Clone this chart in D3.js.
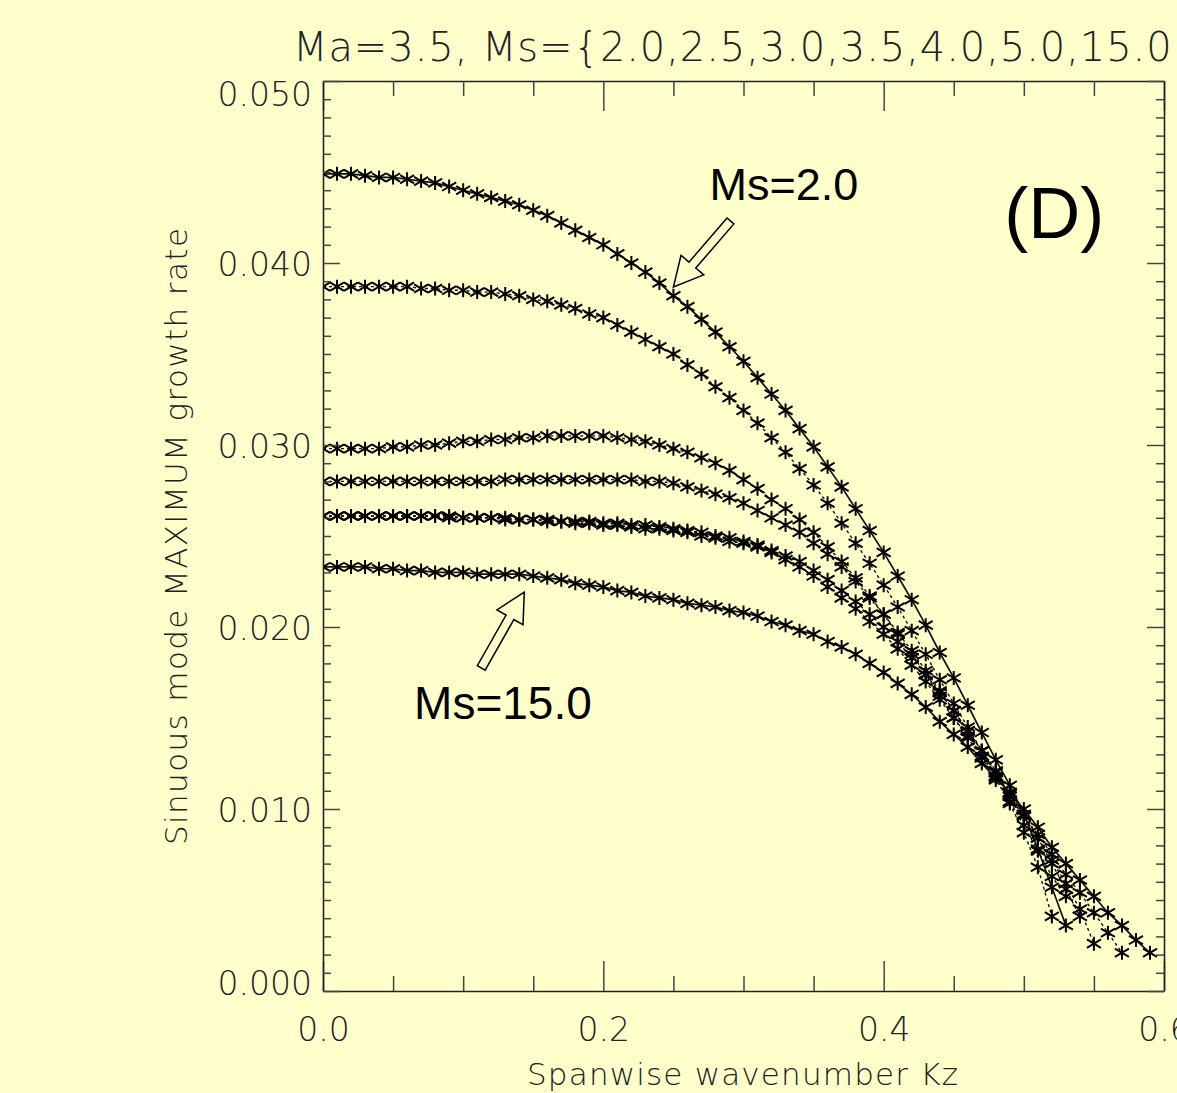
<!DOCTYPE html>
<html>
<head>
<meta charset="utf-8">
<script src="https://cdn.jsdelivr.net/npm/d3@7"></script>
<style>
  html, body { margin: 0; padding: 0; background: #ffffcc; overflow: hidden; }
  svg { display: block; }
  .tick text { font-family: "DejaVu Sans", sans-serif; font-weight: 200; fill: #222; }
</style>
</head>
<body>
<div id="chart"></div>
<script>
// spanwise wavenumber grid (step 0.01)
const kz = [0.00, 0.01, 0.02, 0.03, 0.04, 0.05, 0.06, 0.07, 0.08, 0.09,
            0.10, 0.11, 0.12, 0.13, 0.14, 0.15, 0.16, 0.17, 0.18, 0.19,
            0.20, 0.21, 0.22, 0.23, 0.24, 0.25, 0.26, 0.27, 0.28, 0.29,
            0.30, 0.31, 0.32, 0.33, 0.34, 0.35, 0.36, 0.37, 0.38, 0.39,
            0.40, 0.41, 0.42, 0.43, 0.44, 0.45, 0.46, 0.47, 0.48, 0.49,
            0.50, 0.51, 0.52, 0.53, 0.54, 0.55, 0.56, 0.57, 0.58, 0.59];

// maximum growth rate, one array per Ms
const ms2_0 = [0.0449, 0.0449, 0.0449, 0.0448, 0.0447, 0.0447, 0.0446, 0.0445, 0.0444, 0.0442,
               0.0440, 0.0438, 0.0436, 0.0434, 0.0432, 0.0429, 0.0426, 0.0422, 0.0418, 0.0414,
               0.0410, 0.0405, 0.0400, 0.0395, 0.0389, 0.0382, 0.0376, 0.0369, 0.0362, 0.0354,
               0.0346, 0.0337, 0.0328, 0.0319, 0.0309, 0.0299, 0.0288, 0.0277, 0.0265, 0.0253,
               0.0241, 0.0228, 0.0215, 0.0201, 0.0186, 0.0172, 0.0157, 0.0142, 0.0127, 0.0113,
               0.0097, 0.0078, 0.0057, 0.0036];
const ms2_5 = [0.0387, 0.0387, 0.0387, 0.0387, 0.0387, 0.0387, 0.0387, 0.0386, 0.0386, 0.0385,
               0.0385, 0.0384, 0.0384, 0.0383, 0.0382, 0.0380, 0.0379, 0.0377, 0.0375, 0.0372,
               0.0370, 0.0366, 0.0362, 0.0358, 0.0354, 0.0350, 0.0344, 0.0339, 0.0332, 0.0326,
               0.0319, 0.0312, 0.0304, 0.0296, 0.0287, 0.0278, 0.0268, 0.0257, 0.0246, 0.0235,
               0.0223, 0.0211, 0.0198, 0.0185, 0.0171, 0.0158, 0.0145, 0.0132, 0.0118, 0.0103,
               0.0087, 0.0068, 0.0041];
const ms3_0 = [0.0298, 0.0298, 0.0298, 0.0298, 0.0298, 0.0299, 0.0299, 0.0300, 0.0300, 0.0301,
               0.0302, 0.0302, 0.0303, 0.0303, 0.0304, 0.0304, 0.0305, 0.0305, 0.0305, 0.0305,
               0.0305, 0.0304, 0.0303, 0.0302, 0.0300, 0.0298, 0.0296, 0.0293, 0.0290, 0.0286,
               0.0281, 0.0276, 0.0270, 0.0265, 0.0259, 0.0252, 0.0244, 0.0236, 0.0227, 0.0217,
               0.0207, 0.0196, 0.0185, 0.0174, 0.0162, 0.0150, 0.0139, 0.0128, 0.0116, 0.0104,
               0.0091, 0.0077, 0.0063, 0.0052];
const ms3_5 = [0.0280, 0.0280, 0.0280, 0.0280, 0.0280, 0.0280, 0.0280, 0.0280, 0.0280, 0.0280,
               0.0280, 0.0280, 0.0280, 0.0281, 0.0281, 0.0281, 0.0281, 0.0281, 0.0281, 0.0281,
               0.0281, 0.0281, 0.0281, 0.0280, 0.0280, 0.0279, 0.0277, 0.0275, 0.0273, 0.0271,
               0.0268, 0.0264, 0.0260, 0.0256, 0.0252, 0.0246, 0.0240, 0.0233, 0.0225, 0.0216,
               0.0207, 0.0197, 0.0187, 0.0176, 0.0165, 0.0154, 0.0143, 0.0132, 0.0121, 0.0109,
               0.0097, 0.0084, 0.0070, 0.0056, 0.0041];
const ms4_0 = [0.0261, 0.0261, 0.0261, 0.0261, 0.0261, 0.0261, 0.0261, 0.0261, 0.0261, 0.0261,
               0.0260, 0.0260, 0.0260, 0.0260, 0.0259, 0.0259, 0.0259, 0.0258, 0.0258, 0.0258,
               0.0257, 0.0257, 0.0256, 0.0256, 0.0255, 0.0254, 0.0253, 0.0252, 0.0250, 0.0249,
               0.0247, 0.0245, 0.0242, 0.0239, 0.0236, 0.0231, 0.0226, 0.0220, 0.0214, 0.0207,
               0.0200, 0.0192, 0.0183, 0.0174, 0.0164, 0.0154, 0.0143, 0.0132, 0.0120, 0.0108,
               0.0096, 0.0084, 0.0072, 0.0059, 0.0045, 0.0026];
const ms5_0 = [0.0261, 0.0261, 0.0261, 0.0261, 0.0261, 0.0261, 0.0261, 0.0261, 0.0261, 0.0260,
               0.0260, 0.0260, 0.0260, 0.0259, 0.0259, 0.0259, 0.0258, 0.0258, 0.0257, 0.0257,
               0.0256, 0.0256, 0.0255, 0.0254, 0.0254, 0.0253, 0.0252, 0.0250, 0.0249, 0.0247,
               0.0246, 0.0244, 0.0241, 0.0237, 0.0233, 0.0228, 0.0222, 0.0216, 0.0210, 0.0203,
               0.0196, 0.0188, 0.0179, 0.0170, 0.0160, 0.0150, 0.0140, 0.0129, 0.0118, 0.0107,
               0.0096, 0.0086, 0.0075, 0.0064, 0.0054, 0.0043, 0.0032, 0.0021];
const ms15_0 = [0.0233, 0.0233, 0.0233, 0.0233, 0.0232, 0.0232, 0.0231, 0.0231, 0.0230, 0.0230,
                0.0230, 0.0229, 0.0229, 0.0229, 0.0229, 0.0228, 0.0227, 0.0226, 0.0224, 0.0223,
                0.0222, 0.0220, 0.0219, 0.0217, 0.0216, 0.0215, 0.0213, 0.0212, 0.0211, 0.0209,
                0.0208, 0.0206, 0.0203, 0.0201, 0.0198, 0.0196, 0.0192, 0.0189, 0.0185, 0.0180,
                0.0175, 0.0169, 0.0163, 0.0156, 0.0148, 0.0141, 0.0134, 0.0125, 0.0117, 0.0109,
                0.0100, 0.0090, 0.0079, 0.0070, 0.0061, 0.0052, 0.0043, 0.0036, 0.0028, 0.0021];

const msValues = ["2.0", "2.5", "3.0", "3.5", "4.0", "5.0", "15.0"];
const msSeries = [ms2_0, ms2_5, ms3_0, ms3_5, ms4_0, ms5_0, ms15_0];
const solidSeries = ["2.0", "15.0"];

// ticks
const xMajor = [0.0, 0.2, 0.4, 0.6];
const xMinor = [0.05, 0.10, 0.15, 0.25, 0.30, 0.35, 0.45, 0.50, 0.55];
const yMajor = [0.000, 0.010, 0.020, 0.030, 0.040, 0.050];
const yMinor = [0.001, 0.002, 0.003, 0.004, 0.005, 0.006, 0.007, 0.008, 0.009,
                0.011, 0.012, 0.013, 0.014, 0.015, 0.016, 0.017, 0.018, 0.019,
                0.021, 0.022, 0.023, 0.024, 0.025, 0.026, 0.027, 0.028, 0.029,
                0.031, 0.032, 0.033, 0.034, 0.035, 0.036, 0.037, 0.038, 0.039,
                0.041, 0.042, 0.043, 0.044, 0.045, 0.046, 0.047, 0.048, 0.049];

// annotations, in data units [kz, rate]
const arrows = [
    {tail: [0.2907, 0.04231], tip: [0.2500, 0.03868]},
    {tail: [0.1129, 0.01775], tip: [0.1436, 0.02192]},
];
const labels = [
    {text: "Ms=2.0", at: [0.2757, 0.04346], size: 45},
    {text: "Ms=15.0", at: [0.0650, 0.01495], size: 46},
    {text: "(D)", at: [0.4860, 0.04135], size: 72},
];
const title = "Ma=3.5,  Ms={2.0,2.5,3.0,3.5,4.0,5.0,15.0}";

const width = 1177, height = 1093;
const bg = "#ffffcc";

const svg = d3.select("#chart")
    .append("svg")
    .attr("width", width)
    .attr("height", height);

svg.append("rect").attr("width", width).attr("height", height).attr("fill", bg);

const x = d3.scaleLinear().domain([0, 0.6]).range([323, 1164]);
const y = d3.scaleLinear().domain([0, 0.05]).range([991, 81]);

function drawAxes() {
    const tickColor = "#444";

    // bottom
    let g = svg.append("g").attr("transform", `translate(0,${y(0)})`)
        .call(d3.axisBottom(x).tickValues(xMajor).tickSize(-30).tickSizeOuter(0)
            .tickPadding(27).tickFormat(d3.format(".1f")));
    g.selectAll("text").style("font-size", "33px");
    svg.append("g").attr("transform", `translate(0,${y(0)})`)
        .call(d3.axisBottom(x).tickValues(xMinor).tickSize(-15).tickFormat(""))
        .call(s => s.select(".domain").remove());

    // top
    svg.append("g").attr("transform", `translate(0,${y(0.05)})`)
        .call(d3.axisTop(x).tickValues(xMajor).tickSize(-30).tickSizeOuter(0).tickFormat(""));
    svg.append("g").attr("transform", `translate(0,${y(0.05)})`)
        .call(d3.axisTop(x).tickValues(xMinor).tickSize(-15).tickFormat(""))
        .call(s => s.select(".domain").remove());

    // left
    g = svg.append("g").attr("transform", `translate(${x(0)},0)`)
        .call(d3.axisLeft(y).tickValues(yMajor).tickSize(-17).tickSizeOuter(0)
            .tickPadding(11).tickFormat(d3.format(".3f")));
    g.selectAll("text").style("font-size", "33px")
        .attr("dy", d => d === 0.05 ? "0.75em" : d === 0 ? "0.1em" : "0.38em");
    svg.append("g").attr("transform", `translate(${x(0)},0)`)
        .call(d3.axisLeft(y).tickValues(yMinor).tickSize(-8).tickFormat(""))
        .call(s => s.select(".domain").remove());

    // right
    svg.append("g").attr("transform", `translate(${x(0.6)},0)`)
        .call(d3.axisRight(y).tickValues(yMajor).tickSize(-17).tickSizeOuter(0).tickFormat(""));
    svg.append("g").attr("transform", `translate(${x(0.6)},0)`)
        .call(d3.axisRight(y).tickValues(yMinor).tickSize(-8).tickFormat(""))
        .call(s => s.select(".domain").remove());

    svg.selectAll(".tick line").attr("stroke", tickColor).attr("stroke-width", 1.5);
    svg.selectAll(".domain").attr("stroke", "#222").attr("stroke-width", 1.6);
}

function drawTitles() {
    // the title runs past the right edge, as in the original panel
    svg.append("text")
        .attr("x", 293).attr("y", 61)
        .attr("textLength", 905).attr("lengthAdjust", "spacing")
        .style("font-family", "DejaVu Sans, sans-serif").style("font-weight", 200)
        .style("font-size", "40px").attr("fill", "#222")
        .text(title);

    svg.append("text")
        .attr("x", 527).attr("y", 1085)
        .attr("textLength", 431).attr("lengthAdjust", "spacing")
        .style("font-family", "DejaVu Sans, sans-serif").style("font-weight", 200)
        .style("font-size", "31px").attr("fill", "#222")
        .text("Spanwise wavenumber Kz");

    svg.append("text")
        .attr("transform", "translate(187,845) rotate(-90)")
        .attr("textLength", 617).attr("lengthAdjust", "spacing")
        .style("font-family", "DejaVu Sans, sans-serif").style("font-weight", 200)
        .style("font-size", "31px").attr("fill", "#222")
        .text("Sinuous mode MAXIMUM growth rate");
}

function drawSeries() {
    svg.append("clipPath").attr("id", "plotClip")
        .append("rect")
        .attr("x", x(0)).attr("y", y(0.05))
        .attr("width", x(0.6) - x(0)).attr("height", y(0) - y(0.05));

    const plot = svg.append("g").attr("clip-path", "url(#plotClip)");
    const line = d3.line().x(d => x(d.kz)).y(d => y(d.v));
    const star = "M0,-7V7M-7,-4.2L7,4.2M-7,4.2L7,-4.2";

    msValues.forEach((ms, i) => {
        const data = msSeries[i].map((v, j) => ({kz: kz[j], v: v}));
        const solid = solidSeries.includes(ms);

        plot.append("path")
            .datum(data)
            .attr("d", line)
            .attr("fill", "none")
            .attr("stroke", "#111")
            .attr("stroke-width", solid ? 1.7 : 1.4)
            .attr("stroke-dasharray", solid ? null : "3,3");

        plot.append("g")
            .selectAll("path")
            .data(data)
            .join("path")
            .attr("d", star)
            .attr("transform", d => `translate(${x(d.kz)},${y(d.v)})`)
            .attr("fill", "none")
            .attr("stroke", "#000")
            .attr("stroke-width", 2);
    });
}

function arrowPoints(tail, tip) {
    const [x0, y0] = [x(tail[0]), y(tail[1])];
    const [x1, y1] = [x(tip[0]), y(tip[1])];
    const len = Math.hypot(x1 - x0, y1 - y0);
    const ux = (x1 - x0) / len, uy = (y1 - y0) / len;
    const nx = -uy, ny = ux;
    const shaft = 4.5, head = 15, headLen = 29;
    const bx = x1 - ux * headLen, by = y1 - uy * headLen;
    return [
        [x0 + nx * shaft, y0 + ny * shaft],
        [bx + nx * shaft, by + ny * shaft],
        [bx + nx * head, by + ny * head],
        [x1, y1],
        [bx - nx * head, by - ny * head],
        [bx - nx * shaft, by - ny * shaft],
        [x0 - nx * shaft, y0 - ny * shaft],
    ];
}

function drawAnnotations() {
    svg.selectAll(".arrow")
        .data(arrows)
        .join("polygon")
        .attr("class", "arrow")
        .attr("points", d => arrowPoints(d.tail, d.tip).map(p => p.join(",")).join(" "))
        .attr("fill", bg)
        .attr("stroke", "#000")
        .attr("stroke-width", 1.5)
        .attr("stroke-linejoin", "miter");

    svg.selectAll(".note")
        .data(labels)
        .join("text")
        .attr("class", "note")
        .attr("x", d => x(d.at[0]))
        .attr("y", d => y(d.at[1]))
        .style("font-family", "Liberation Sans, Arial, sans-serif")
        .style("font-size", d => d.size + "px")
        .attr("fill", "#000")
        .text(d => d.text);
}

drawSeries();
drawAxes();
drawTitles();
drawAnnotations();
</script>
</body>
</html>
